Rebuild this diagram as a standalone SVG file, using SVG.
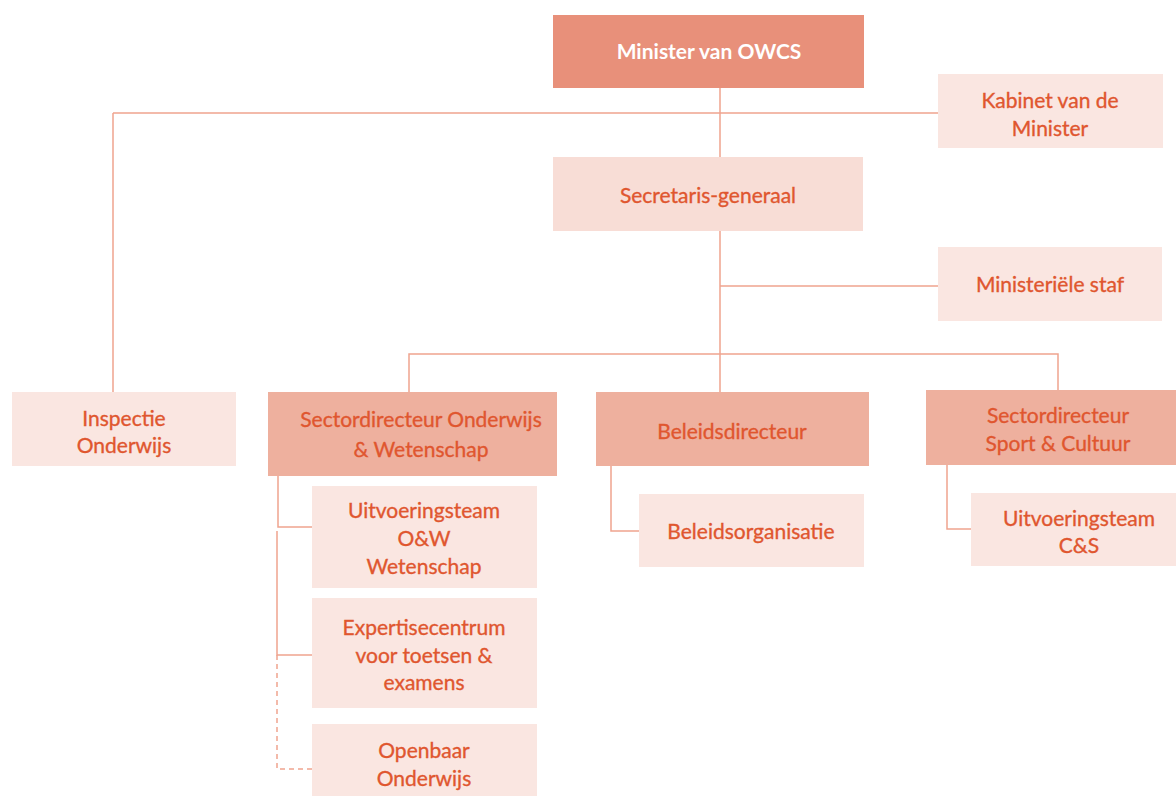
<svg xmlns="http://www.w3.org/2000/svg" width="1176" height="796" viewBox="0 0 1176 796">
<style>
.t{font-family:"Lato","Open Sans","Liberation Sans",sans-serif;font-size:21px;fill:#E0562F;stroke:#E0562F;stroke-width:0.35;text-anchor:middle}
.w{fill:#FFFFFF;stroke:#FFFFFF;font-weight:bold;stroke-width:0}
.dark{fill:#E8907A}
.mid{fill:#EEB09E}
.lt{fill:#F8DDD6}
.lt2{fill:#FAE6E1}
.ln{stroke:#F0A48F;stroke-width:1.5;fill:none}
.dash{stroke-dasharray:5 4}
</style>
<rect width="1176" height="796" fill="#FFFFFF"/>
<g id="connectors">
<path class="ln" d="M720 88V392M113 113H938M113 113V392M720 286H938M409 392V354H1058V390"/>
<path class="ln" d="M278 476V527H312M277 531V655H312M611 466V531H639M947 465V529H971"/>
<path class="ln dash" d="M277 655V769H312"/>
</g>
<g id="minister"><rect class="dark" x="553" y="15" width="311" height="73"/><text class="t w" x="709" y="59">Minister van OWCS</text></g>
<g id="kabinet"><rect class="lt2" x="938" y="74" width="225" height="74"/><text class="t" x="1050" y="108">Kabinet van de</text><text class="t" x="1050" y="136">Minister</text></g>
<g id="secretaris"><rect class="lt" x="553" y="157" width="310" height="74"/><text class="t" x="708" y="203">Secretaris-generaal</text></g>
<g id="staf"><rect class="lt2" x="938" y="247" width="224" height="74"/><text class="t" x="1050" y="292">Ministeriële staf</text></g>
<g id="inspectie"><rect class="lt2" x="12" y="392" width="224" height="74"/><text class="t" x="124" y="426">Inspectie</text><text class="t" x="124" y="453">Onderwijs</text></g>
<g id="sector-ow"><rect class="mid" x="268" y="392" width="289" height="84"/><text class="t" x="421" y="427">Sectordirecteur Onderwijs</text><text class="t" x="421" y="457">&amp; Wetenschap</text></g>
<g id="beleidsdirecteur"><rect class="mid" x="596" y="392" width="273" height="74"/><text class="t" x="732" y="439">Beleidsdirecteur</text></g>
<g id="sector-sc"><rect class="mid" x="926" y="390" width="250" height="75"/><text class="t" x="1058" y="423">Sectordirecteur</text><text class="t" x="1058" y="451">Sport &amp; Cultuur</text></g>
<g id="uitvoering-ow"><rect class="lt2" x="312" y="486" width="225" height="102"/><text class="t" x="424" y="518">Uitvoeringsteam</text><text class="t" x="424" y="546">O&amp;W</text><text class="t" x="424" y="574">Wetenschap</text></g>
<g id="expertise"><rect class="lt2" x="312" y="598" width="225" height="110"/><text class="t" x="424" y="635">Expertisecentrum</text><text class="t" x="424" y="663">voor toetsen &amp;</text><text class="t" x="424" y="690">examens</text></g>
<g id="openbaar"><rect class="lt2" x="312" y="724" width="225" height="72"/><text class="t" x="424" y="758">Openbaar</text><text class="t" x="424" y="786">Onderwijs</text></g>
<g id="beleidsorganisatie"><rect class="lt2" x="639" y="494" width="225" height="73"/><text class="t" x="751" y="539">Beleidsorganisatie</text></g>
<g id="uitvoering-cs"><rect class="lt2" x="971" y="493" width="205" height="73"/><text class="t" x="1079" y="526">Uitvoeringsteam</text><text class="t" x="1079" y="553">C&amp;S</text></g>
</svg>
